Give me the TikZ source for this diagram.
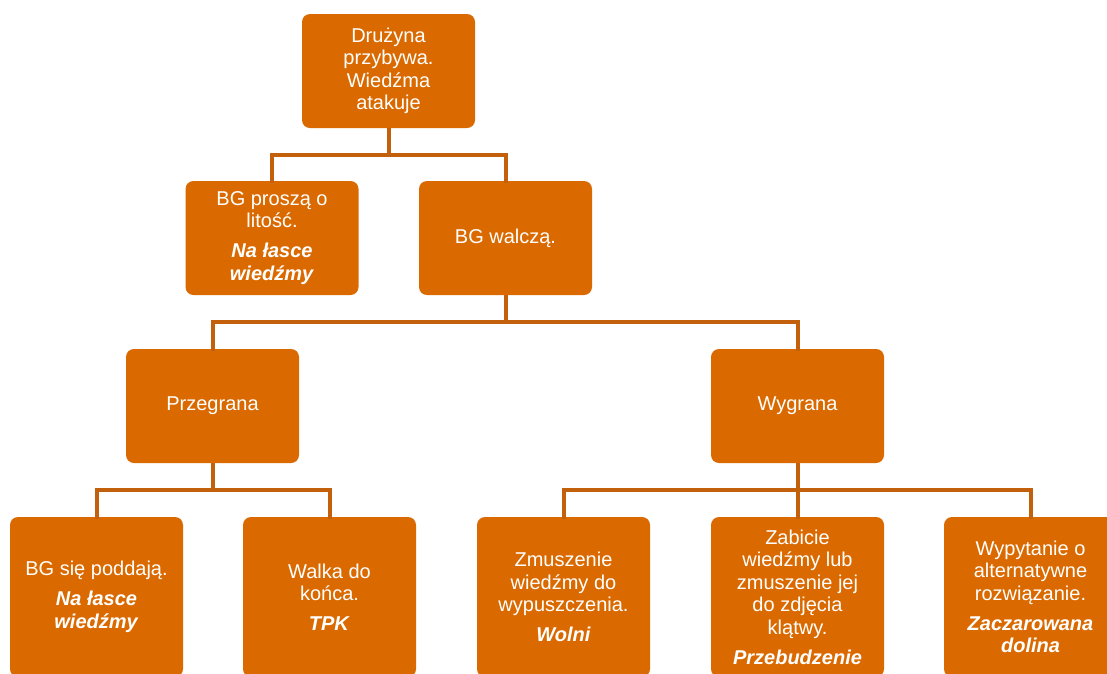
\documentclass[tikz,border=0pt]{standalone}
\usepackage{fontspec}
\setmainfont{Liberation Sans}
\definecolor{boxc}{RGB}{218,106,0}
\definecolor{linec}{RGB}{194,96,12}
\newcommand\bitxt[1]{\textbf{\textit{#1}}}
\begin{document}
\begin{tikzpicture}[x=1pt,y=-1pt,
  box/.style={fill=boxc, rounded corners=8pt, minimum width=173pt, minimum height=114pt,
    text=white, align=center, inner sep=0pt, font=\fontsize{20}{22.5}\selectfont},
  tallbox/.style={box, minimum height=160pt},
  conn/.style={draw=linec, line width=4pt}]
\useasboundingbox (0,0) rectangle (1107,673);
\clip (0,0) rectangle (1107,673);
\fill[white] (0,0) rectangle (1107,673);

\node[box] (top) at (388.5,71) {Drużyna\\przybywa.\\Wiedźma\\atakuje};
\node[box] (mercy) at (272,238) {BG proszą o\\litość.\\[7.5pt]\bitxt{Na łasce}\\\bitxt{wiedźmy}};
\node[box] (fight) at (505.5,238) {BG walczą.};
\node[box] (lose) at (212.5,406) {Przegrana};
\node[box] (win) at (797.5,406) {Wygrana};
\node[tallbox] (surr) at (96.5,597) {BG się poddają.\\[7.5pt]\bitxt{Na łasce}\\\bitxt{wiedźmy}};
\node[tallbox] (tpk) at (329.5,597) {Walka do\\końca.\\[7.5pt]\bitxt{TPK}};
\node[tallbox] (force) at (563.5,597) {Zmuszenie\\wiedźmy do\\wypuszczenia.\\[7.5pt]\bitxt{Wolni}};
\node[tallbox] (kill) at (797.5,597) {Zabicie\\wiedźmy lub\\zmuszenie jej\\do zdjęcia\\klątwy.\\[7.5pt]\bitxt{Przebudzenie}};
\node[tallbox] (ask) at (1030.5,597) {Wypytanie o\\alternatywne\\rozwiązanie.\\[7.5pt]\bitxt{Zaczarowana}\\\bitxt{dolina}};

\draw[conn] (top.south) -- ++(0,26.5) -| ([yshift=-2pt]mercy.north);
\draw[conn] (top.south) -- ++(0,26.5) -| ([yshift=-2pt]fight.north);
\draw[conn] (fight.south) -- ++(0,27) -| ([yshift=-2pt]lose.north);
\draw[conn] (fight.south) -- ++(0,27) -| ([yshift=-2pt]win.north);
\draw[conn] (lose.south) -- ++(0,26.5) -| ([yshift=-2pt]surr.north);
\draw[conn] (lose.south) -- ++(0,26.5) -| ([yshift=-2pt]tpk.north);
\draw[conn] (win.south) -- ++(0,26.5) -| ([yshift=-2pt]force.north);
\draw[conn] (win.south) -- ++(0,26.5) -| ([yshift=-2pt]kill.north);
\draw[conn] (win.south) -- ++(0,26.5) -| ([yshift=-2pt]ask.north);
\end{tikzpicture}
\end{document}
